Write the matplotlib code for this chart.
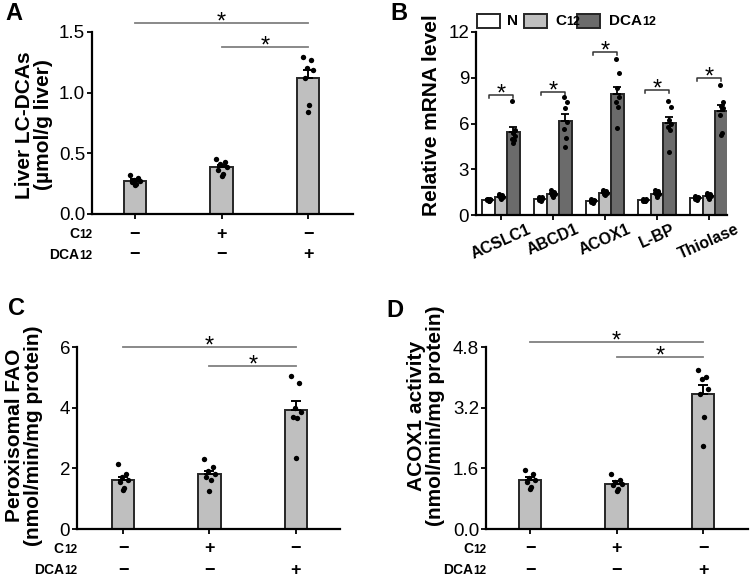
import numpy as np
import matplotlib
matplotlib.use('Agg')
import matplotlib.pyplot as plt
from matplotlib.transforms import offset_copy, blended_transform_factory
from matplotlib.patches import Rectangle

plt.rcParams['font.family'] = ['Liberation Sans', 'DejaVu Sans']

# ---------------- data ----------------
# Panel A: Liver LC-DCAs
a_means = [0.274, 0.386, 1.125]
a_sem = [0.012, 0.02, 0.065]
a_points = [[0.32, 0.30, 0.28, 0.27, 0.26, 0.25, 0.24],
            [0.45, 0.43, 0.41, 0.39, 0.36, 0.33, 0.31],
            [1.29, 1.27, 1.20, 1.19, 1.12, 0.90, 0.84]]

# Panel C: Peroxisomal FAO
c_means = [1.63, 1.80, 3.91]
c_sem = [0.10, 0.11, 0.30]
c_points = [[2.15, 1.80, 1.70, 1.60, 1.55, 1.35, 1.28],
            [2.30, 2.05, 1.90, 1.80, 1.70, 1.60, 1.25],
            [5.05, 4.80, 4.00, 3.85, 3.70, 3.65, 2.35]]

# Panel D: ACOX1 activity
d_means = [1.29, 1.20, 3.55]
d_sem = [0.07, 0.06, 0.24]
d_points = [[1.55, 1.45, 1.35, 1.30, 1.25, 1.10, 1.05],
            [1.45, 1.30, 1.25, 1.20, 1.15, 1.05, 1.00],
            [4.20, 4.00, 3.95, 3.70, 3.55, 2.95, 2.20]]

c12_signs = ['\u2212', '+', '\u2212']
dca_signs = ['\u2212', '\u2212', '+']

# Panel B: relative mRNA level
genes = ['ACSLC1', 'ABCD1', 'ACOX1', 'L-BP', 'Thiolase']
b_series = ['N', 'C12', 'DCA12']
b_n = [1.0, 1.05, 0.92, 0.97, 1.1]
b_n_sem = [0.04, 0.05, 0.05, 0.03, 0.05]
b_c12 = [1.2, 1.38, 1.45, 1.4, 1.25]
b_c12_sem = [0.05, 0.06, 0.05, 0.07, 0.06]
b_dca = [5.46, 6.19, 7.93, 6.01, 6.82]
b_dca_sem = [0.33, 0.43, 0.49, 0.39, 0.37]
b_n_points = [[1.08, 1.05, 1.02, 1.00, 0.97, 0.95, 0.93],
              [1.20, 1.15, 1.08, 1.05, 1.00, 0.96, 0.92],
              [1.05, 1.00, 0.95, 0.90, 0.88, 0.85, 0.80],
              [1.05, 1.02, 1.00, 0.97, 0.94, 0.92, 0.90],
              [1.22, 1.18, 1.12, 1.10, 1.06, 1.03, 1.00]]
b_c12_points = [[1.35, 1.30, 1.25, 1.20, 1.15, 1.10, 1.05],
                [1.65, 1.50, 1.42, 1.38, 1.32, 1.25, 1.15],
                [1.62, 1.58, 1.50, 1.45, 1.40, 1.35, 1.28],
                [1.65, 1.55, 1.45, 1.40, 1.35, 1.25, 1.15],
                [1.45, 1.38, 1.30, 1.25, 1.20, 1.10, 1.05]]
b_dca_points = [[7.50, 5.60, 5.40, 5.20, 5.00, 4.90, 4.70],
                [7.76, 7.39, 7.04, 6.12, 5.64, 5.03, 4.44],
                [10.20, 9.33, 8.30, 7.76, 7.43, 7.10, 5.68],
                [7.50, 7.10, 6.20, 6.00, 5.80, 5.60, 4.10],
                [8.52, 7.43, 7.15, 7.00, 6.56, 5.36, 5.25]]
b_sig = [7.9, 8.05, 10.7, 8.2, 9.0]

# ---------------- figure ----------------
W, H = 750, 577
fig = plt.figure(figsize=(W / 100, H / 100), dpi=100)
renderer = fig.canvas.get_renderer()

BAR_FILL = '#bfbfbf'
DARK_FILL = '#6b6b6b'
EDGE = '#262626'
SIG = '#808080'
jit = np.array([-0.5, 0.3, -0.1, 0.5, -0.3, 0.1, 0.0])


def rect(l, r, t, b):
    return [l / W, 1 - b / H, (r - l) / W, (b - t) / H]


def sub_text(x, y, main, sub, trans, ha, size, subsize):
    if ha == 'right':
        t2 = fig.text(x, y, sub, transform=offset_copy(trans, fig=fig, x=0, y=-1.0, units='dots'),
                      ha='right', va='center', fontsize=subsize, fontweight='bold')
        w = t2.get_window_extent(renderer).width
        fig.text(x, y, main, transform=offset_copy(trans, fig=fig, x=-w, y=0, units='dots'),
                 ha='right', va='center', fontsize=size, fontweight='bold')
    else:
        t1 = fig.text(x, y, main, transform=trans, ha='left', va='center',
                      fontsize=size, fontweight='bold')
        w = t1.get_window_extent(renderer).width
        if sub:
            fig.text(x, y, sub, transform=offset_copy(trans, fig=fig, x=w, y=-1.0, units='dots'),
                     ha='left', va='center', fontsize=subsize, fontweight='bold')


def style_axes(ax):
    for s in ['top', 'right']:
        ax.spines[s].set_visible(False)
    for s in ['left', 'bottom']:
        ax.spines[s].set_linewidth(1.6)
    ax.tick_params(axis='both', direction='out', length=3.5, width=1.3,
                   labelsize=13.5, pad=1.5)


def star(ax, x, y):
    ax.annotate('*', xy=(x, y), xytext=(0, -4), textcoords='offset points',
                ha='center', va='baseline', fontsize=17, annotation_clip=False)


def simple_panel(r, xlim, means, sems, points, yticks, ylim, fmt, ylabel, lab_xy, sigs):
    ax = fig.add_axes(r)
    x = np.arange(len(means))
    ax.bar(x, means, width=0.255, color=BAR_FILL, edgecolor=EDGE, linewidth=1.4, zorder=2)
    ax.errorbar(x, means, yerr=[np.zeros(len(means)), sems], fmt='none', ecolor='black',
                elinewidth=1.4, capsize=3.6, capthick=1.4, zorder=3)
    for xi, pts in zip(x, points):
        ax.scatter(xi + jit[:len(pts)] * 0.12, pts, s=15, color='black', zorder=4, linewidths=0)
    ax.set_xlim(*xlim)
    ax.set_ylim(*ylim)
    ax.set_yticks(yticks)
    ax.set_yticklabels([fmt.format(v) for v in yticks])
    ax.set_xticks(x)
    ax.set_xticklabels([])
    style_axes(ax)
    ax.set_ylabel(ylabel, fontsize=15, fontweight='bold', linespacing=1.0)
    ax.yaxis.set_label_coords(*lab_xy)
    for (x0, x1, y) in sigs:
        ax.plot([x0, x1], [y, y], color=SIG, lw=1.3, clip_on=False, zorder=1)
        star(ax, (x0 + x1) / 2, y)
    # treatment rows
    h_px = r[3] * H
    row1 = -20 / h_px
    row2 = -41 / h_px
    bt = blended_transform_factory(ax.transData, ax.transAxes)
    for xi, s1, s2 in zip(x, c12_signs, dca_signs):
        ax.text(xi, row1, s1, transform=bt, ha='center', va='center', fontsize=13, fontweight='bold')
        ax.text(xi, row2, s2, transform=bt, ha='center', va='center', fontsize=13, fontweight='bold')
    sub_text(0.0, row1, 'C', '12', ax.transAxes, 'right', 10, 8.5)
    sub_text(0.0, row2, 'DCA', '12', ax.transAxes, 'right', 10, 8.5)
    return ax


# Panel A
simple_panel(rect(92, 353, 32, 214), (-0.497, 2.52), a_means, a_sem, a_points,
             [0.0, 0.5, 1.0, 1.5], (0, 1.5), '{:.1f}',
             'Liver LC-DCAs\n(\u00b5mol/g liver)', (-0.15, 0.49),
             [(0, 2, 1.574), (1, 2, 1.376)])

# Panel C
simple_panel(rect(77, 340, 347, 529), (-0.532, 2.509), c_means, c_sem, c_points,
             [0, 2, 4, 6], (0, 6), '{:.0f}',
             'Peroxisomal FAO\n(nmol/min/mg protein)', (-0.13, 0.515),
             [(0, 2, 6.0), (1, 2, 5.37)])

# Panel D
simple_panel(rect(486, 748, 347, 529), (-0.509, 2.52), d_means, d_sem, d_points,
             [0.0, 1.6, 3.2, 4.8], (0, 4.8), '{:.1f}',
             'ACOX1 activity\n(nmol/min/mg protein)', (-0.156, 0.62),
             [(0, 2, 4.93), (1, 2, 4.54)])

# Panel B
axb = fig.add_axes(rect(476, 727, 32, 215))
xg = np.arange(len(genes))
off = 0.24
bw = 0.232
series = [(b_n, b_n_sem, b_n_points, 'white'),
          (b_c12, b_c12_sem, b_c12_points, BAR_FILL),
          (b_dca, b_dca_sem, b_dca_points, DARK_FILL)]
for k, (vals, sems, pts, col) in enumerate(series):
    xs = xg + (k - 1) * off
    axb.bar(xs, vals, width=bw, color=col, edgecolor=EDGE, linewidth=1.4, zorder=2)
    axb.errorbar(xs, vals, yerr=[np.zeros(len(vals)), sems], fmt='none', ecolor='black',
                 elinewidth=1.3, capsize=2.8, capthick=1.3, zorder=3)
    for xi, p in zip(xs, pts):
        axb.scatter(xi + jit[:len(p)] * 0.07, p, s=13, color='black', zorder=4, linewidths=0)
for xi, y in zip(xg, b_sig):
    x0, x1 = xi - off, xi + off
    axb.plot([x0, x0, x1, x1], [y - 0.2, y, y, y - 0.2], color='#333333', lw=1.1,
             clip_on=False, zorder=1)
    star(axb, xi, y)
axb.set_xlim(-0.481, 4.346)
axb.set_ylim(0, 12)
axb.set_yticks([0, 3, 6, 9, 12])
axb.set_xticks(xg)
style_axes(axb)
axb.set_xticklabels(genes, rotation=24, ha='center', va='top', fontsize=11.5, fontweight='bold')
axb.set_ylabel('Relative mRNA level', fontsize=15, fontweight='bold')
axb.yaxis.set_label_coords(-0.14, 0.546)

# Legend for B (figure pixel coordinates)
leg_boxes = [(477, 'white'), (524, BAR_FILL), (577, DARK_FILL)]
leg_text_x = [507, 555, 609]
leg_parts = [('N', ''), ('C', '12'), ('DCA', '12')]
for (bx, col), tx, (m, s) in zip(leg_boxes, leg_text_x, leg_parts):
    fig.add_artist(Rectangle((bx / W, 1 - 28 / H), 23 / W, 14 / H, transform=fig.transFigure,
                             facecolor=col, edgecolor=EDGE, linewidth=1.4))
    sub_text(tx / W, 1 - 21 / H, m, s, fig.transFigure, 'left', 11, 9)

# Panel letters
for letter, (lx, ly) in zip('ABCD', [(5, 2), (390, 2), (8, 297), (386, 299)]):
    fig.text(lx / W, 1 - ly / H, letter, ha='left', va='top', fontsize=17, fontweight='bold')

fig.savefig('out.png', dpi=100)
